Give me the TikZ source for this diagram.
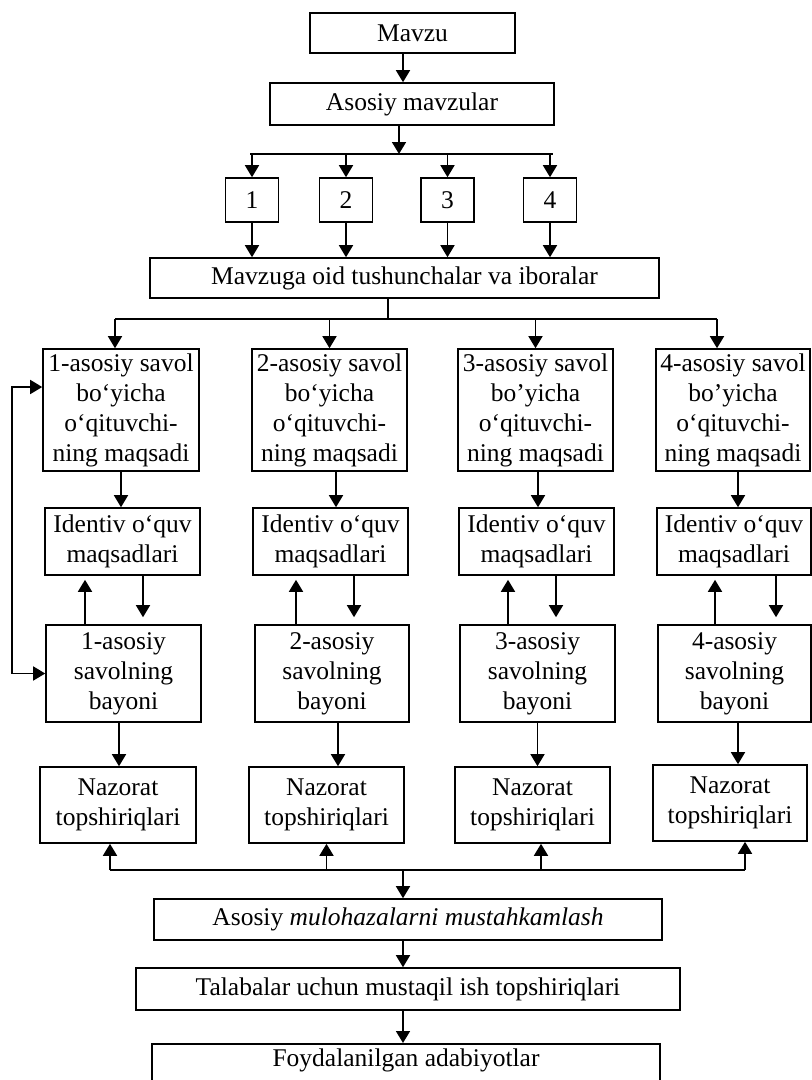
\documentclass[tikz,border=0pt]{standalone}
\usepackage{fontspec}
\setmainfont{Liberation Serif}
\usetikzlibrary{arrows.meta}
\tikzset{
  >={Triangle[length=12bp,width=14bp]},
  box/.style={draw,line width=1.6bp,inner sep=1bp,align=center,font=\fontsize{25.5bp}{30bp}\selectfont},
  arr/.style={->,line width=1.6bp},
  bus/.style={line width=1.6bp},
}
\begin{document}
\begin{tikzpicture}[x=1bp,y=-1bp]
\useasboundingbox (0,0) rectangle (812,1080);
\clip (0,0) rectangle (812,1080);
\node[box,minimum width=205bp,minimum height=40bp] (mavzu) at (412.5,33) {Mavzu};
\node[box,minimum width=284bp,minimum height=42bp] (asosiy) at (412,104) {Asosiy mavzular};
\node[box,minimum width=53bp,minimum height=44bp] (n1) at (252,200) {1};
\node[box,minimum width=53bp,minimum height=44bp] (n2) at (346,200) {2};
\node[box,minimum width=53bp,minimum height=44bp] (n3) at (447.5,200) {3};
\node[box,minimum width=53bp,minimum height=44bp] (n4) at (550,200) {4};
\node[box,minimum width=509bp,minimum height=40bp] (tush) at (404.5,278) {Mavzuga oid tushunchalar va iboralar};
\node[box,minimum width=156bp,minimum height=122bp] (g1) at (121,410) {1-asosiy savol\\bo‘yicha\\o‘qituvchi-\\ning maqsadi};
\node[box,minimum width=155bp,minimum height=122bp] (g2) at (329.5,410) {2-asosiy savol\\bo‘yicha\\o‘qituvchi-\\ning maqsadi};
\node[box,minimum width=155bp,minimum height=122bp] (g3) at (535.5,410) {3-asosiy savol\\bo’yicha\\o‘qituvchi-\\ning maqsadi};
\node[box,minimum width=154bp,minimum height=122bp] (g4) at (733,410) {4-asosiy savol\\bo’yicha\\o‘qituvchi-\\ning maqsadi};
\node[box,minimum width=155bp,minimum height=67bp] (id1) at (122.5,541.5) {Identiv o‘quv\\maqsadlari};
\node[box,minimum width=155bp,minimum height=67bp] (id2) at (330.5,541.5) {Identiv o‘quv\\maqsadlari};
\node[box,minimum width=155bp,minimum height=67bp] (id3) at (536.5,541.5) {Identiv o‘quv\\maqsadlari};
\node[box,minimum width=154bp,minimum height=67bp] (id4) at (734,541.5) {Identiv o‘quv\\maqsadlari};
\node[box,minimum width=155bp,minimum height=97bp] (s1) at (123.5,673.5) {1-asosiy\\savolning\\bayoni};
\node[box,minimum width=154bp,minimum height=97bp] (s2) at (332,673.5) {2-asosiy\\savolning\\bayoni};
\node[box,minimum width=155bp,minimum height=97bp] (s3) at (537.5,673.5) {3-asosiy\\savolning\\bayoni};
\node[box,minimum width=153bp,minimum height=97bp] (s4) at (734.5,673.5) {4-asosiy\\savolning\\bayoni};
\node[box,minimum width=156bp,minimum height=76bp] (nz1) at (118,805) {Nazorat\\topshiriqlari};
\node[box,minimum width=155bp,minimum height=76bp] (nz2) at (326.5,805) {Nazorat\\topshiriqlari};
\node[box,minimum width=155bp,minimum height=76bp] (nz3) at (532.5,805) {Nazorat\\topshiriqlari};
\node[box,minimum width=154bp,minimum height=76bp] (nz4) at (730,803) {Nazorat\\topshiriqlari};
\node[box,minimum width=508bp,minimum height=41bp] (mulo) at (408,919.5) {Asosiy \textit{mulohazalarni mustahkamlash}};
\node[box,minimum width=544bp,minimum height=42bp] (tal) at (408,989) {Talabalar uchun mustaqil ish topshiriqlari};
\node[box,minimum width=508bp,text height=22bp,text depth=16bp,anchor=north] (foy) at (406,1043) {Foydalanilgan adabiyotlar};
\coordinate (b1a) at (250,154);
\coordinate (b1b) at (553,154);
\coordinate (b2a) at (115,319);
\coordinate (b2b) at (717,319);
\coordinate (b3a) at (110,870);
\coordinate (b3b) at (745,870);
\coordinate (fb) at (12,530);
\draw[arr] ([xshift=-9.5bp]mavzu.south) -- ([xshift=-9.5bp]mavzu.south |- asosiy.north);
\draw[arr] ([xshift=-13bp]asosiy.south) -- ([xshift=-13bp]asosiy.south |- b1a);
\draw[bus] (b1a) -- (b1b);
\draw[arr] (n1.north |- b1a) -- (n1.north);
\draw[arr] (n2.north |- b1a) -- (n2.north);
\draw[arr] (n3.north |- b1a) -- (n3.north);
\draw[arr] (n4.north |- b1a) -- (n4.north);
\draw[arr] (n1.south) -- (n1.south |- tush.north);
\draw[arr] (n2.south) -- (n2.south |- tush.north);
\draw[arr] (n3.south) -- (n3.south |- tush.north);
\draw[arr] (n4.south) -- (n4.south |- tush.north);
\draw[bus] ([xshift=-16.5bp]tush.south) -- ([xshift=-16.5bp]tush.south |- b2a);
\draw[bus] (b2a) -- (b2b);
\draw[arr] (b2a) -- (b2a |- g1.north);
\draw[arr] (g2.north |- b2a) -- (g2.north);
\draw[arr] (g3.north |- b2a) -- (g3.north);
\draw[arr] (b2b) -- (b2b |- g4.north);
\draw[arr] (g1.south) -- (g1.south |- id1.north);
\draw[arr] ([xshift=6.5bp]g2.south) -- ([xshift=6.5bp]g2.south |- id2.north);
\draw[arr] ([xshift=2.5bp]g3.south) -- ([xshift=2.5bp]g3.south |- id3.north);
\draw[arr] ([xshift=5bp]g4.south) -- ([xshift=5bp]g4.south |- id4.north);
\draw[arr,shorten >=4bp] ([xshift=-38.5bp]s1.north) -- ([xshift=-38.5bp]s1.north |- id1.south);
\draw[arr,shorten >=4bp] ([xshift=-36bp]s2.north) -- ([xshift=-36bp]s2.north |- id2.south);
\draw[arr,shorten >=4bp] ([xshift=-29.5bp]s3.north) -- ([xshift=-29.5bp]s3.north |- id3.south);
\draw[arr,shorten >=4bp] ([xshift=-19.5bp]s4.north) -- ([xshift=-19.5bp]s4.north |- id4.south);
\draw[arr,shorten >=7bp] ([xshift=20.5bp]id1.south) -- ([xshift=20.5bp]id1.south |- s1.north);
\draw[arr,shorten >=7bp] ([xshift=23.5bp]id2.south) -- ([xshift=23.5bp]id2.south |- s2.north);
\draw[arr,shorten >=7bp] ([xshift=19.5bp]id3.south) -- ([xshift=19.5bp]id3.south |- s3.north);
\draw[arr,shorten >=7bp] ([xshift=42bp]id4.south) -- ([xshift=42bp]id4.south |- s4.north);
\draw[<->,line width=1.6bp] ([yshift=23bp]g1.west) -| (fb) |- (s1.west);
\draw[arr] ([xshift=-4.5bp]s1.south) -- ([xshift=-4.5bp]s1.south |- nz1.north);
\draw[arr] ([xshift=6bp]s2.south) -- ([xshift=6bp]s2.south |- nz2.north);
\draw[arr] (s3.south) -- (s3.south |- nz3.north);
\draw[arr] ([xshift=3.5bp]s4.south) -- ([xshift=3.5bp]s4.south |- nz4.north);
\draw[bus] (b3a) -- (b3b);
\draw[arr] (b3a) -- (b3a |- nz1.south);
\draw[arr] (nz2.south |- b3a) -- (nz2.south);
\draw[arr] ([xshift=8.5bp]nz3.south |- b3a) -- ([xshift=8.5bp]nz3.south);
\draw[arr] (b3b) -- (b3b |- nz4.south);
\draw[arr] ([xshift=-5bp]mulo.north |- b3a) -- ([xshift=-5bp]mulo.north);
\draw[arr] ([xshift=-5bp]mulo.south) -- ([xshift=-5bp]mulo.south |- tal.north);
\draw[arr] ([xshift=-5bp]tal.south) -- ([xshift=-5bp]tal.south |- foy.north);
\end{tikzpicture}
\end{document}
